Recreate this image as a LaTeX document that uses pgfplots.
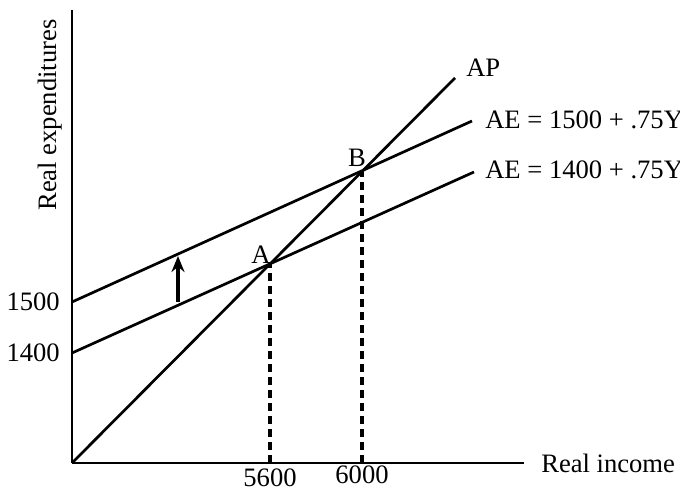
\documentclass[border=0pt]{standalone}
\usepackage{pgfplots}
\pgfplotsset{compat=1.18}
\usepackage{fontspec}
\setmainfont{Liberation Serif}
\usetikzlibrary{arrows.meta}

\begin{document}
\fontsize{13.3}{16}\selectfont
\begin{tikzpicture}
    \begin{axis}[
        x=0.5pt, y=0.5pt,
        xmin=0, xmax=452,
        ymin=0, ymax=453,
        axis lines=left,
        axis line style={-, line width=1.4pt},
        xtick=\empty, ytick=\empty,
        clip=false,
    ]
        % AP line (45 degrees)
        \addplot[line width=1.35pt] coordinates {(0,0) (383,385)};
        % AE = 1500 + .75Y
        \addplot[line width=1.35pt] coordinates {(0,161) (400,342)};
        % AE = 1400 + .75Y
        \addplot[line width=1.35pt] coordinates {(0,110) (402,291)};
        % drop lines at A and B
        \addplot[line width=1.6pt, dash pattern=on 4pt off 2.5pt] coordinates {(198,0) (198,201)};
        \addplot[line width=1.6pt, dash pattern=on 4pt off 2.5pt] coordinates {(290,0) (290,293)};
        % upward shift arrow
        \addplot[line width=1.6pt, -{Stealth[length=8pt, width=6.5pt]}] coordinates {(106,161) (106,207)};

        \node[anchor=east] at (axis cs:-3,161) {1500};
        \node[anchor=east] at (axis cs:-3,110) {1400};
        \node[inner sep=0pt] at (axis cs:198,-15) {5600};
        \node at (axis cs:290,-12) {6000};
        \node[anchor=west] at (axis cs:460,0) {Real income};
        \node[rotate=90] at (axis cs:-22,348) {Real expenditures};
        \node[anchor=west] at (axis cs:385,395) {AP};
        \node[anchor=west] at (axis cs:404,343) {AE = 1500 + .75Y};
        \node[anchor=west] at (axis cs:404,293) {AE = 1400 + .75Y};
        \node at (axis cs:189,208) {A};
        \node at (axis cs:285,305) {B};

        \coordinate (bl) at (axis cs:-72,-29);
        \coordinate (tr) at (axis cs:608,463);
    \end{axis}
    \pgfresetboundingbox
    \path (bl) rectangle (tr);
\end{tikzpicture}
\end{document}
